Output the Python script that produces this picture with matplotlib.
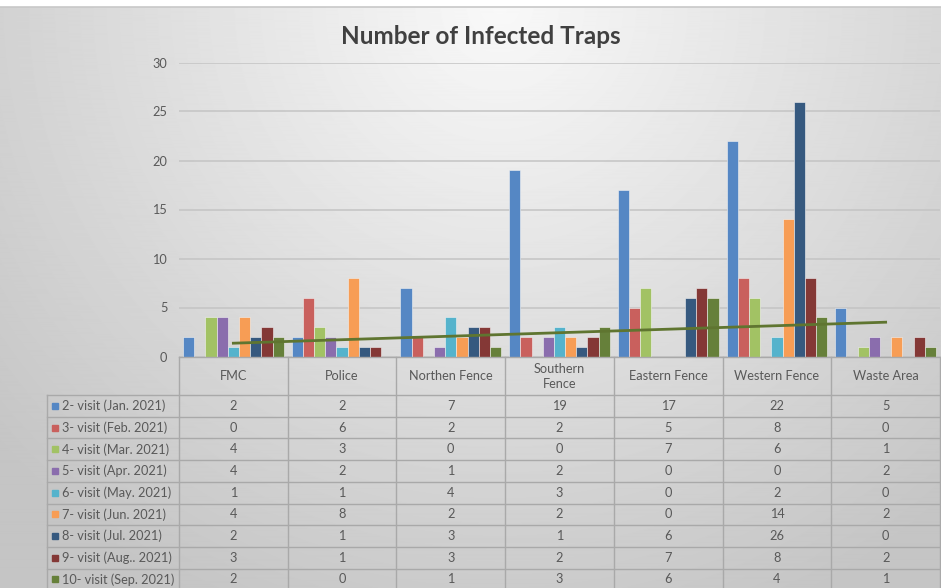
import numpy as np
import matplotlib.pyplot as plt
from matplotlib.patches import Rectangle

plt.rcParams["font.family"] = ["Lato", "DejaVu Sans"]

locations = ["FMC", "Police", "Northen Fence", "Southern\nFence",
             "Eastern Fence", "Western Fence", "Waste Area"]
visits = [
    "2- visit (Jan. 2021)",
    "3- visit (Feb. 2021)",
    "4- visit (Mar. 2021)",
    "5- visit (Apr. 2021)",
    "6- visit (May. 2021)",
    "7- visit (Jun. 2021)",
    "8- visit (Jul. 2021)",
    "9- visit (Aug.. 2021)",
    "10- visit (Sep. 2021)",
]
visit2 = [2, 2, 7, 19, 17, 22, 5]
visit3 = [0, 6, 2, 2, 5, 8, 0]
visit4 = [4, 3, 0, 0, 7, 6, 1]
visit5 = [4, 2, 1, 2, 0, 0, 2]
visit6 = [1, 1, 4, 3, 0, 2, 0]
visit7 = [4, 8, 2, 2, 0, 14, 2]
visit8 = [2, 1, 3, 1, 6, 26, 0]
visit9 = [3, 1, 3, 2, 7, 8, 2]
visit10 = [2, 0, 1, 3, 6, 4, 1]
series = [visit2, visit3, visit4, visit5, visit6, visit7, visit8, visit9, visit10]

colors = ["#5587C4", "#C9605D", "#A2C264", "#8A6DAD", "#55B3CC",
          "#F79D55", "#36597F", "#843836", "#66803A"]

W, H = 941, 588
fig = plt.figure(figsize=(W / 100, H / 100), dpi=100)
fig.patch.set_facecolor("white")

# background gradient (light at top centre, grey to the edges)
bg = fig.add_axes([0, 0, 1, 1])
bg.set_xlim(0, W)
bg.set_ylim(H, 0)
bg.axis("off")
yy, xx = np.mgrid[0:H, 0:W]
d = np.sqrt(((xx - 500) / 560.0) ** 2 + (yy / 560.0) ** 2)
shade = 0.975 - 0.17 * np.clip(d, 0, 1.2)
bg.imshow(shade, cmap="gray", vmin=0, vmax=1, extent=(0, W, H, 7),
          aspect="auto", interpolation="bilinear")
bg.plot([0, W], [7, 7], color="#c8c8c8", lw=1.2)

# main chart
x0, x1 = 179, 940
y0, y30 = 356.5, 62.5
ax = fig.add_axes([x0 / W, 1 - y0 / H, (x1 - x0) / W, (y0 - y30) / H])
ax.patch.set_alpha(0)
x = np.arange(len(locations))
bw = 0.103
for i, (vals, c) in enumerate(zip(series, colors)):
    ax.bar(x + (i - 4) * bw, vals, bw, color=c, edgecolor="#f2f2f2",
           linewidth=0.4, zorder=3)

fit = np.polyfit(x, visit10, 1)
ax.plot(x, np.polyval(fit, x), color="#5F7530", lw=2, zorder=4)

ax.set_xlim(-0.5, len(locations) - 0.5)
ax.set_ylim(0, 30)
ax.set_yticks(range(0, 31, 5))
ax.set_xticks([])
ax.tick_params(axis="y", length=0, pad=8.5, labelsize=9.2, labelcolor="#595959")
ax.grid(axis="y", color="#c4c4c4", lw=1.1, zorder=0)
for s in ax.spines.values():
    s.set_visible(False)

# data table
tab = fig.add_axes([0, 0, 1, 1])
tab.set_xlim(0, W)
tab.set_ylim(H, 0)
tab.axis("off")
lc = "#a9a9a9"
fs = 9.2
col_w = (x1 - x0) / len(locations)
head_top, head_bot = 357, 395
row_h = 21.7
left = 47
bottom = head_bot + row_h * len(visits)

tab.plot([x0, x1], [head_top, head_top], color=lc, lw=1)
for j in range(len(locations) + 1):
    xe = x0 + j * col_w
    tab.plot([xe, xe], [head_top, bottom], color=lc, lw=1)
tab.plot([left, left], [head_bot, bottom], color=lc, lw=1)
for r in range(len(visits) + 1):
    ye = head_bot + r * row_h
    tab.plot([left, x1], [ye, ye], color=lc, lw=1)

for j, name in enumerate(locations):
    tab.text(x0 + (j + 0.5) * col_w, (head_top + head_bot) / 2 + 0.5, name,
             ha="center", va="center", fontsize=fs, color="#595959",
             linespacing=1.35)

for r, (label, vals, c) in enumerate(zip(visits, series, colors)):
    yc = head_bot + (r + 0.5) * row_h
    tab.add_patch(Rectangle((52, yc - 3), 6, 6, color=c))
    tab.text(62, yc, label, ha="left", va="center", fontsize=fs,
             color="#595959")
    for j, v in enumerate(vals):
        tab.text(x0 + (j + 0.5) * col_w, yc, str(v), ha="center",
                 va="center", fontsize=fs, color="#595959")

fig.text(481 / W, 1 - 37 / H, "Number of Infected Traps", ha="center",
         va="center", fontsize=17.5, fontweight="bold", color="#404040")

fig.savefig("out.png", dpi=100)
